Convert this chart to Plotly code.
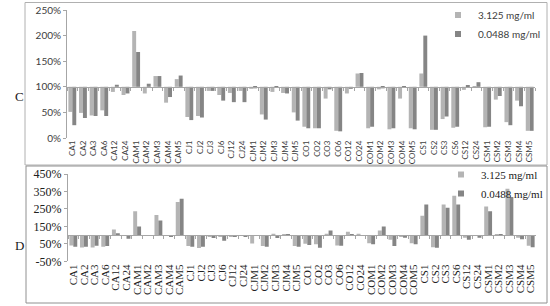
import plotly.graph_objects as go

categories = ["CA1", "CA2", "CA3", "CA6", "CA12", "CA24", "CAM1", "CAM2", "CAM3", "CAM4", "CAM5",
              "CJ1", "CJ2", "CJ3", "CJ6", "CJ12", "CJ24", "CJM1", "CJM2", "CJM3", "CJM4", "CJM5",
              "CO1", "CO2", "CO3", "CO6", "CO12", "CO24", "COM1", "COM2", "COM3", "COM4", "COM5",
              "CS1", "CS2", "CS3", "CS6", "CS12", "CS24", "CSM1", "CSM2", "CSM3", "CSM4", "CSM5"]

# Panel C (percent)
c_high = [51, 49, 44, 54, 90, 84, 209, 87, 121, 69, 115,
          41, 43, 92, 84, 88, 92, 96, 46, 90, 88, 50,
          22, 19, 77, 14, 87, 126, 19, 95, 17, 77, 19,
          126, 16, 37, 20, 94, 99, 21, 75, 31, 73, 14]
c_low = [25, 39, 43, 43, 104, 87, 168, 106, 121, 80, 122,
         35, 40, 92, 73, 70, 70, 97, 36, 99, 87, 34,
         19, 19, 95, 13, 96, 127, 22, 97, 19, 99, 17,
         200, 16, 42, 22, 103, 109, 22, 82, 25, 62, 14]

# Panel D (percent)
d_high = [41, 29, 29, 33, 132, 98, 237, 98, 215, 98, 289,
          37, 26, 94, 94, 89, 98, 52, 37, 108, 102, 37,
          50, 47, 108, 41, 119, 108, 54, 127, 73, 89, 54,
          211, 31, 276, 325, 85, 96, 264, 104, 365, 85, 39]
d_low = [33, 33, 39, 37, 110, 79, 150, 99, 184, 91, 308,
         33, 33, 83, 68, 89, 92, 98, 33, 83, 102, 33,
         43, 27, 127, 39, 104, 100, 47, 150, 37, 85, 47,
         276, 27, 256, 276, 73, 85, 237, 104, 318, 77, 31]

series_names = ["3.125 mg/ml", "0.0488 mg/ml"]
c_ticks = [0, 50, 100, 150, 200, 250]
d_ticks = [-50, 50, 150, 250, 350, 450]
baseline = 100

LIGHT = "#b4b4b4"
DARK = "#858585"
AXIS = "#a6a6a6"

W, H = 550, 306
def fx(px):
    return px / W
def fy(py):
    return 1 - py / H

c_dom_y = [fy(138), fy(10)]
d_dom_y = [fy(261.3), fy(174)]
c_dom_x = [fx(67), fx(535)]
d_dom_x = [fx(68), fx(536)]

c_range = [0, 250]
d_range = [-50, 450]
c_pos = c_dom_y[0] + (baseline - c_range[0]) / (c_range[1] - c_range[0]) * (c_dom_y[1] - c_dom_y[0])
d_pos = d_dom_y[0] + (baseline - d_range[0]) / (d_range[1] - d_range[0]) * (d_dom_y[1] - d_dom_y[0])

bw = 0.37
fig = go.Figure()

def add_panel(high, low, xa_lab, xa_base, ya, legend):
    fig.add_trace(go.Bar(x=categories, y=[v - baseline for v in high], base=baseline,
                         name=series_names[0], marker=dict(color=LIGHT, line=dict(width=0)),
                         offset=-bw, width=bw, xaxis=xa_lab, yaxis=ya, showlegend=False))
    fig.add_trace(go.Bar(x=categories, y=[v - baseline for v in low], base=baseline,
                         name=series_names[1], marker=dict(color=DARK, line=dict(width=0)),
                         offset=0, width=bw, xaxis=xa_base, yaxis=ya, showlegend=False))
    for nm, col in zip(series_names, [LIGHT, DARK]):
        fig.add_trace(go.Scatter(x=[None], y=[None], mode="markers", name=nm,
                                 marker=dict(symbol="square", size=6, color=col),
                                 xaxis=xa_lab, yaxis=ya, legend=legend))

add_panel(c_high, c_low, "x", "x2", "y", "legend")
add_panel(d_high, d_low, "x3", "x4", "y3", "legend2")

xr = [-0.5, len(categories) - 0.5]
sans = "Lato"
serif = "Liberation Serif"

common_x = dict(type="category", categoryorder="array", categoryarray=categories, range=xr,
                showgrid=False, zeroline=False, fixedrange=True, automargin=False,
                tickmode="array", tickvals=categories, ticktext=categories)

fig.update_layout(
    width=W, height=H, margin=dict(l=0, r=0, t=0, b=0, autoexpand=False),
    paper_bgcolor="white", plot_bgcolor="white",
    barmode="overlay",
    xaxis=dict(**common_x, domain=c_dom_x, anchor="y", showline=False, ticks="",
               tickangle=-90, tickfont=dict(family=sans, size=8, color="#404040")),
    xaxis2=dict(**common_x, domain=c_dom_x, overlaying="x", anchor="free", position=c_pos,
                showline=True, linecolor=AXIS, linewidth=1, ticks="outside", tickson="boundaries",
                ticklen=3, tickcolor=AXIS, showticklabels=False),
    yaxis=dict(domain=c_dom_y, range=c_range, tickmode="array", tickvals=c_ticks,
               ticktext=[f"{t}%" for t in c_ticks], showgrid=False, automargin=False,
               zeroline=False, showline=True, linecolor=AXIS, ticks="outside", ticklen=3,
               tickcolor=AXIS, tickfont=dict(family=sans, size=10, color="#404040"), anchor="x"),
    xaxis3=dict(**common_x, domain=d_dom_x, anchor="y3", showline=False, ticks="",
                tickangle=-90, tickfont=dict(family=serif, size=11, color="#202020")),
    xaxis4=dict(**common_x, domain=d_dom_x, overlaying="x3", anchor="free", position=d_pos,
                showline=True, linecolor=AXIS, linewidth=1, ticks="outside", tickson="boundaries",
                ticklen=3, tickcolor=AXIS, showticklabels=False),
    yaxis3=dict(domain=d_dom_y, range=d_range, tickmode="array", tickvals=d_ticks,
                ticktext=[f"{t}%" for t in d_ticks], showgrid=False, automargin=False,
                zeroline=False, showline=True, linecolor=AXIS, ticks="outside", ticklen=3,
                tickcolor=AXIS, tickfont=dict(family=serif, size=12, color="#202020"), anchor="x3"),
    legend=dict(x=fx(546), y=fy(0.5), xanchor="right", yanchor="top", bgcolor="rgba(0,0,0,0)",
                font=dict(family=sans, size=10, color="#404040"), itemwidth=30,
                tracegroupgap=0, itemclick=False),
    legend2=dict(x=fx(548), y=fy(160), xanchor="right", yanchor="top", bgcolor="rgba(0,0,0,0)",
                 font=dict(family=serif, size=11, color="#202020"), itemwidth=30,
                 tracegroupgap=0, itemclick=False),
    shapes=[
        dict(type="rect", xref="paper", yref="paper", x0=fx(25), x1=fx(547), y0=fy(165), y1=fy(2.5),
             line=dict(color="#b0b0b0", width=1), layer="below"),
        dict(type="rect", xref="paper", yref="paper", x0=fx(26), x1=fx(547), y0=fy(303), y1=fy(166),
             line=dict(color="#909090", width=1), layer="below"),
    ],
    annotations=[
        dict(text="C", x=fx(13), y=fy(87), xref="paper", yref="paper", showarrow=False,
             font=dict(family=serif, size=13, color="#202020")),
        dict(text="D", x=fx(13), y=fy(255), xref="paper", yref="paper", showarrow=False,
             font=dict(family=serif, size=13, color="#202020")),
    ],
)

fig.write_html("out.html", config={"displayModeBar": False},
               post_script="document.body.style.margin='0';")
